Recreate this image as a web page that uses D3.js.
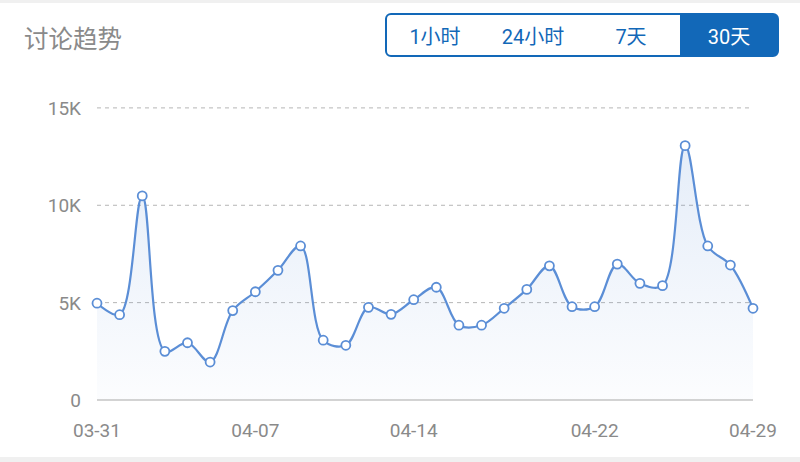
<!DOCTYPE html>
<html><head><meta charset="utf-8">
<script src="https://cdn.jsdelivr.net/npm/d3@7"></script>
<style>html,body{margin:0;padding:0;background:#fff;}svg{display:block;}</style>
</head><body>
<svg id="c" width="800" height="462"></svg>
<script>
const title = "讨论趋势";
const buttons = ["1小时", "24小时", "7天", "30天"];
const activeButton = 3;
const dates = ["03-31","04-01","04-02","04-03","04-04","04-05","04-06","04-07","04-08","04-09",
  "04-10","04-11","04-12","04-13","04-14","04-15","04-16","04-17","04-18","04-19",
  "04-20","04-21","04-22","04-23","04-24","04-25","04-26","04-27","04-28","04-29"];
const values = [4970,4380,10480,2500,2940,1950,4590,5560,6660,7910,
  3070,2810,4760,4400,5150,5790,3840,3840,4710,5680,
  6890,4790,4790,6980,5990,5870,13060,7910,6930,4710];
const xTickLabels = ["03-31","04-07","04-14","04-22","04-29"];
const yTicks = [0,5000,10000,15000];
const yTickLabels = ["0","5K","10K","15K"];

const svg = d3.select("#c");
const W = 800, H = 462;
const m = {left:97, right:47, top:108, bottom:62};
const font = "Roboto, 'Noto Sans CJK SC', sans-serif";

svg.append("rect").attr("x",0).attr("y",0).attr("width",W).attr("height",3).attr("fill","#f0f0f0");
svg.append("rect").attr("x",0).attr("y",457).attr("width",W).attr("height",5).attr("fill","#f0f0f0");

svg.append("text").attr("x",24).attr("y",48).text(title)
  .attr("font-family","'Noto Sans CJK SC', sans-serif").attr("font-size",24.5).attr("fill","#8a8a8a");

// button group
const bx=386, by=14, bw=392, bh=42, seg=bw/buttons.length;
const blue="#1268b8";
svg.append("defs").append("clipPath").attr("id","bclip")
  .append("rect").attr("x",bx).attr("y",by).attr("width",bw).attr("height",bh).attr("rx",5);
svg.append("rect").attr("x",bx+seg*activeButton).attr("y",by).attr("width",seg).attr("height",bh)
  .attr("fill",blue).attr("clip-path","url(#bclip)");
svg.append("rect").attr("x",bx).attr("y",by).attr("width",bw).attr("height",bh).attr("rx",5)
  .attr("fill","none").attr("stroke",blue).attr("stroke-width",2);
buttons.forEach((b,i)=>{
  svg.append("text").attr("x",bx+seg*i+seg/2).attr("y",by+29.5).attr("text-anchor","middle")
    .attr("font-family",font).attr("font-size",20)
    .attr("fill", i===activeButton ? "#fff" : blue).text(b);
});

const x = d3.scalePoint().domain(dates).range([m.left, W-m.right]);
const y = d3.scaleLinear().domain([0,15000]).range([400, 107.9]);

// grid
const g = svg.append("g");
yTicks.forEach((t,i)=>{
  if (t>0) g.append("line").attr("x1",m.left).attr("x2",W-m.right).attr("y1",y(t)).attr("y2",y(t))
    .attr("stroke","#b5b5b5").attr("stroke-width",1).attr("stroke-dasharray","4,4");
  g.append("text").attr("x",81).attr("y",y(t)+7).attr("text-anchor","end")
    .attr("font-family",font).attr("font-size",19).attr("fill","#8a8a8a").text(yTickLabels[i]);
});

// gradient
const grad = svg.select("defs").append("linearGradient").attr("id","ag")
  .attr("gradientUnits","userSpaceOnUse").attr("x1",0).attr("x2",0).attr("y1",y(13060)).attr("y2",y(0));
grad.append("stop").attr("offset","0").attr("stop-color","#5b8ed6").attr("stop-opacity",0.16);
grad.append("stop").attr("offset","1").attr("stop-color","#5b8ed6").attr("stop-opacity",0.02);

const data = dates.map((d,i)=>({d, v:values[i]}));
const curve = d3.curveCatmullRom.alpha(0.5);
svg.append("path").datum(data)
  .attr("d", d3.area().x(p=>x(p.d)).y0(y(0)).y1(p=>y(p.v)).curve(curve))
  .attr("fill","url(#ag)");

// axis line
svg.append("line").attr("x1",m.left).attr("x2",W-m.right).attr("y1",y(0)).attr("y2",y(0))
  .attr("stroke","#a8a8a8").attr("stroke-width",1);

svg.append("path").datum(data)
  .attr("d", d3.line().x(p=>x(p.d)).y(p=>y(p.v)).curve(curve))
  .attr("fill","none").attr("stroke","#5b8ed6").attr("stroke-width",2.2);

svg.selectAll("circle.pt").data(data).enter().append("circle")
  .attr("cx",p=>x(p.d)).attr("cy",p=>y(p.v)).attr("r",4.5)
  .attr("fill","#fff").attr("stroke","#5b8ed6").attr("stroke-width",1.8);

// x labels
xTickLabels.forEach(l=>{
  svg.append("text").attr("x",x(l)).attr("y",437).attr("text-anchor","middle")
    .attr("font-family",font).attr("font-size",19).attr("fill","#8a8a8a").text(l);
});
</script>
</body></html>
